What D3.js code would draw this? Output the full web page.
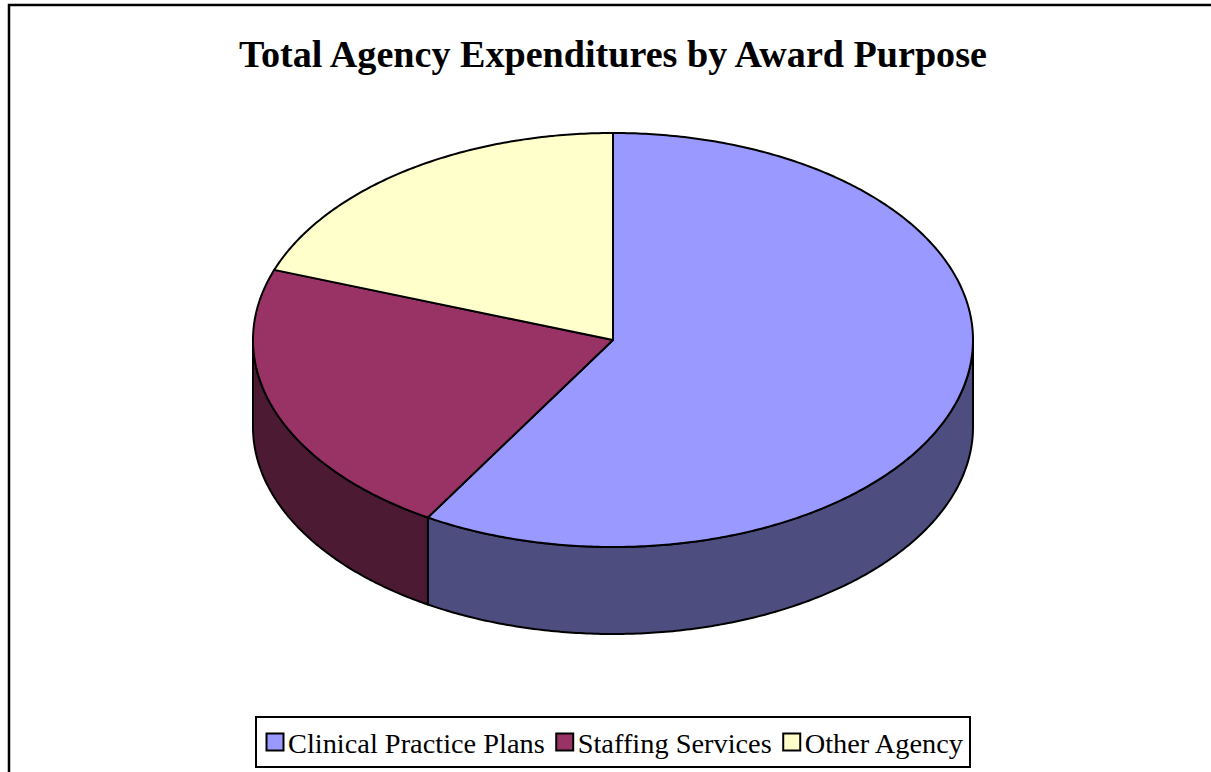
<!DOCTYPE html>
<html>
<head>
<meta charset="utf-8">
<script src="https://cdn.jsdelivr.net/npm/d3@7"></script>
<style>
  html, body { margin: 0; padding: 0; background: #fff; }
  svg { display: block; }
</style>
</head>
<body>
<div id="chart-wrap"></div>
<script>
// data (share of total, %)
var categories = ["Clinical Practice Plans", "Staffing Services", "Other Agency"];
var values = [58.6, 21.9, 19.5];
var topColors = ["#9999FF", "#993366", "#FFFFCC"];
var sideColors = ["#4D4D80", "#4D1A33", "#80806A"];
var title = "Total Agency Expenditures by Award Purpose";

var width = 1211, height = 772;
var cx = 613, cy = 340, rx = 360, ry = 207, depth = 87;
var serif = "'Liberation Serif', 'DejaVu Serif', serif";

var svg = d3.select("#chart-wrap")
  .append("svg")
  .attr("width", width)
  .attr("height", height);

// chart area frame (right/bottom edges fall outside the window)
svg.append("rect")
  .attr("x", 9).attr("y", 5)
  .attr("width", width + 20).attr("height", height + 20)
  .attr("fill", "#fff")
  .attr("stroke", "#000")
  .attr("stroke-width", 2.5);

// title; squeezed a little so it keeps the width of the narrower original face
var titleText = svg.append("text")
  .attr("x", 613).attr("y", 67)
  .attr("text-anchor", "middle")
  .style("font-family", serif)
  .style("font-weight", "bold")
  .style("font-size", "35px")
  .text(title);
var tw = titleText.node().getComputedTextLength();
if (tw > 748) {
  titleText.attr("textLength", 748).attr("lengthAdjust", "spacingAndGlyphs");
} else {
  titleText.style("font-size", (35 * 748 / tw) + "px");
}

var pie = d3.pie().sort(null).value(function(d) { return d; });
var arcs = pie(values);

// angle t: 0 at 12 o'clock, clockwise
function pt(t, dy) {
  return [cx + rx * Math.sin(t), cy - ry * Math.cos(t) + (dy || 0)];
}
function arcPoints(a0, a1, dy) {
  var n = Math.max(2, Math.ceil((a1 - a0) / 0.01));
  return d3.range(n + 1).map(function(i) {
    return pt(a0 + (a1 - a0) * i / n, dy);
  });
}
var line = d3.line();

// side walls: only the front half (t between PI/2 and 3PI/2) is seen
arcs.forEach(function(a, i) {
  var a0 = Math.max(a.startAngle, Math.PI / 2);
  var a1 = Math.min(a.endAngle, 3 * Math.PI / 2);
  if (a1 <= a0) return;
  var top = arcPoints(a0, a1, 0);
  var bottom = arcPoints(a0, a1, depth).reverse();
  svg.append("path")
    .attr("d", line(top.concat(bottom)) + "Z")
    .attr("fill", sideColors[i])
    .attr("stroke", "#000")
    .attr("stroke-width", 2)
    .attr("stroke-linejoin", "round");
});

// top faces
arcs.forEach(function(a, i) {
  var pts = [[cx, cy]].concat(arcPoints(a.startAngle, a.endAngle, 0));
  svg.append("path")
    .attr("d", line(pts) + "Z")
    .attr("fill", topColors[i])
    .attr("stroke", "#000")
    .attr("stroke-width", 2)
    .attr("stroke-linejoin", "round");
});

// legend
var legendX = 256, legendY = 717, legendW = 714, legendH = 50;
var legend = svg.append("g");
legend.append("rect")
  .attr("x", legendX).attr("y", legendY)
  .attr("width", legendW).attr("height", legendH)
  .attr("fill", "#fff")
  .attr("stroke", "#000")
  .attr("stroke-width", 2);

var sw = 17, swGap = 5, itemGap = 11, fs = 27;
var items = legend.selectAll("g.item")
  .data(categories)
  .enter().append("g").attr("class", "item");
items.append("rect")
  .attr("width", sw).attr("height", sw)
  .attr("y", 733.5)
  .attr("fill", function(d, i) { return topColors[i]; })
  .attr("stroke", "#000")
  .attr("stroke-width", 2);
var labels = items.append("text")
  .attr("y", 753)
  .style("font-family", serif)
  .style("font-size", fs + "px")
  .text(function(d) { return d; });

// fit the row of entries to the span seen in the picture
var target = 963 - 266;
var textW = 0;
labels.each(function() { textW += this.getComputedTextLength(); });
var fixed = categories.length * (sw + swGap) + (categories.length - 1) * itemGap;
var k = (target - fixed) / textW;
labels.each(function() {
  var w = this.getComputedTextLength() * k;
  d3.select(this).attr("textLength", w).attr("lengthAdjust", "spacingAndGlyphs");
  this.__w = w;
});

var xpos = 266;
items.each(function() {
  var g = d3.select(this);
  g.select("rect").attr("x", xpos + 0.5);
  var t = g.select("text").attr("x", xpos + sw + swGap);
  xpos += sw + swGap + t.node().__w + itemGap;
});
</script>
</body>
</html>
